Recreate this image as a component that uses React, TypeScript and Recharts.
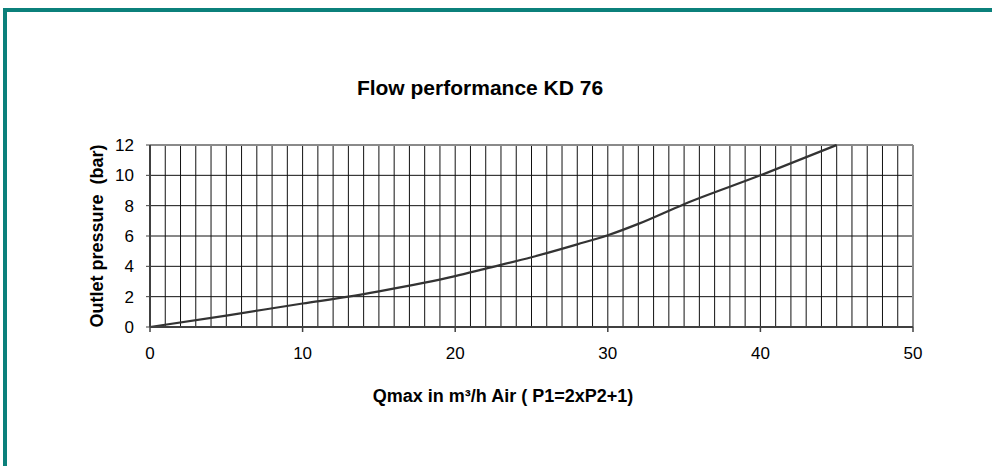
import { LineChart, Line, XAxis, YAxis, CartesianGrid, ReferenceLine } from 'recharts';

const flowRates = [0, 5, 10, 13, 15, 20, 22, 25, 28, 30, 32, 35, 40, 45];
const pressures = [0, 0.75, 1.55, 2.0, 2.35, 3.35, 3.85, 4.6, 5.45, 6.05, 6.8, 8.1, 10.0, 12.0];
const xTicks = Array.from({ length: 51 }, (_, i) => i);
const yTicks = [0, 2, 4, 6, 8, 10, 12];

const data = flowRates.map((q, i) => ({ q, p: pressures[i] }));

const FONT = '"Liberation Sans", Arial, Helvetica, sans-serif';

const XTick = (props: any) => {
  const { x, y, payload } = props;
  if (payload.value % 10 !== 0) return <g />;
  return (
    <g>
      <line x1={x} x2={x} y1={y - 5} y2={y} stroke="#404040" strokeWidth={1.5} />
      <text x={x} y={y + 27} textAnchor="middle" fontSize={17} fill="#000" fontFamily={FONT}>
        {payload.value}
      </text>
    </g>
  );
};

export default function App() {
  return (
    <div style={{ position: 'absolute', left: 0, top: 0, width: 992, height: 466, background: '#fff', overflow: 'hidden', fontFamily: FONT }}>
      <div style={{ position: 'absolute', left: 3, top: 8, width: 989, height: 4, background: '#0b807b' }} />
      <div style={{ position: 'absolute', left: 3, top: 8, width: 4, height: 458, background: '#0b807b' }} />
      <div style={{ position: 'absolute', left: 280, width: 400, top: 75, textAlign: 'center', fontWeight: 'bold', fontSize: 21, lineHeight: '26px' }}>
        Flow performance KD 76
      </div>
      <div style={{ position: 'absolute', left: 303, width: 400, top: 384, textAlign: 'center', fontWeight: 'bold', fontSize: 18, lineHeight: '24px' }}>
        Qmax in m³/h Air ( P1=2xP2+1)
      </div>
      <div style={{ position: 'absolute', left: 97 - 150, width: 300, top: 236 - 12, textAlign: 'center', fontWeight: 'bold', fontSize: 18, lineHeight: '24px', transform: 'rotate(-90deg)', transformOrigin: '150px 12px', whiteSpace: 'pre' }}>
        {'Outlet pressure  (bar)'}
      </div>
      <div style={{ position: 'absolute', left: 0, top: 0 }}>
        <LineChart width={992} height={466} data={data} margin={{ top: 145, right: 79, bottom: 109, left: 90 }}>
          <CartesianGrid stroke="#111" strokeWidth={1} />
          <XAxis
            dataKey="q"
            type="number"
            domain={[0, 50]}
            ticks={xTicks}
            interval={0}
            tickLine={false}
            tickSize={5}
            tickMargin={0}
            tick={<XTick />}
            axisLine={{ stroke: '#404040', strokeWidth: 2 }}
            height={30}
          />
          <YAxis
            type="number"
            domain={[0, 12]}
            ticks={yTicks}
            interval={0}
            width={60}
            tickSize={4}
            tickMargin={12}
            tickLine={{ stroke: '#404040' }}
            tick={{ fontSize: 17, fill: '#000', fontFamily: FONT }}
            axisLine={{ stroke: '#404040', strokeWidth: 2 }}
          />
          <ReferenceLine y={12} stroke="#8a8a8a" strokeWidth={2} />
          <ReferenceLine x={50} stroke="#8a8a8a" strokeWidth={2} />
          <Line
            type="monotone"
            dataKey="p"
            stroke="#333"
            strokeWidth={2.2}
            dot={false}
            isAnimationActive={false}
          />
        </LineChart>
      </div>
    </div>
  );
}
